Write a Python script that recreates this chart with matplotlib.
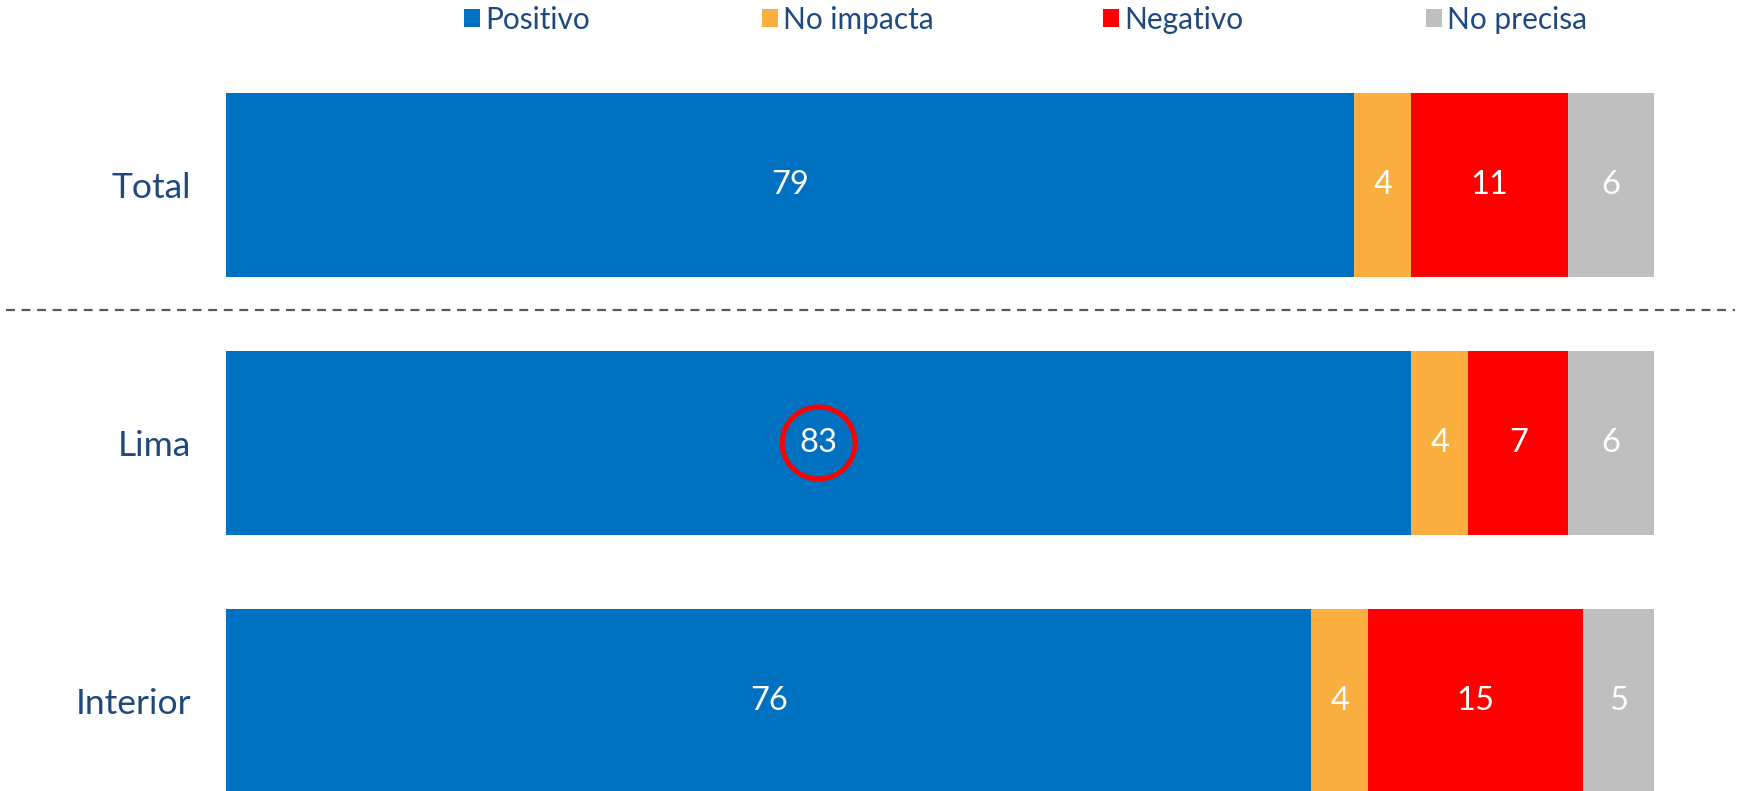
import matplotlib
matplotlib.use("Agg")
import matplotlib.pyplot as plt
from matplotlib.patches import Patch, Ellipse

categories = ["Total", "Lima", "Interior"]
series_names = ["Positivo", "No impacta", "Negativo", "No precisa"]
positivo = [79, 83, 76]
no_impacta = [4, 4, 4]
negativo = [11, 7, 15]
no_precisa = [6, 6, 5]
highlight_category = "Lima"
highlight_series = "Positivo"

colors = ["#0070C0", "#FBAF41", "#FF0000", "#BFBFBF"]
text_color = "#1F497D"
font = ["Lato", "DejaVu Sans"]
plt.rcParams["font.family"] = font

W, H = 1744, 791
fig = plt.figure(figsize=(W / 100, H / 100), dpi=100)
ax = fig.add_axes([226 / W, 0, 1428 / W, 1])

series = [positivo, no_impacta, negativo, no_precisa]
ypos = list(range(len(categories)))
left = [0] * len(categories)
bars_by_series = {}
for name, vals, col in zip(series_names, series, colors):
    bars = ax.barh(ypos, vals, left=left, height=0.713, color=col,
                   edgecolor="none", label=name)
    bars_by_series[name] = bars
    for y, v, l in zip(ypos, vals, left):
        ax.text(l + v / 2, y, f"{v}", ha="center", va="center",
                color="white", fontsize=23.5)
    left = [a + b for a, b in zip(left, vals)]

ax.set_xlim(0, 100)
ax.set_ylim(2.349, -0.717)
ax.set_yticks(ypos)
ax.set_yticklabels(categories, fontsize=25.5, color=text_color)
ax.tick_params(axis="y", length=0, pad=25)
ax.tick_params(axis="x", bottom=False, labelbottom=False)
for s in ax.spines.values():
    s.set_visible(False)

# separator dashed line between Total and the regions
ax.axhline(0.4845, xmin=-0.154, xmax=1.0567, color="#595959", lw=1.6,
           ls=(0, (4, 3)), clip_on=False)

# highlight circle around Lima Positivo value
hi = categories.index(highlight_category)
b = bars_by_series[highlight_series][hi]
cx = b.get_x() + b.get_width() / 2
ell = Ellipse((cx, hi), width=73 / 14.28, height=72 / 258, fill=False,
              edgecolor="#FF0000", lw=3.6, zorder=5)
ax.add_patch(ell)

# legend entries placed individually
legend_x = [464, 762, 1103, 1426]
for name, col, lx in zip(series_names, colors, legend_x):
    fig.legend(handles=[Patch(facecolor=col, edgecolor="none", label=name)],
               loc="center left", bbox_to_anchor=(lx / W, 1 - 20 / H),
               frameon=False, fontsize=21.5, labelcolor=text_color,
               handlelength=0.55, handleheight=0.55, handletextpad=0.15,
               borderpad=0, borderaxespad=0)

fig.savefig("out.png", dpi=100)
